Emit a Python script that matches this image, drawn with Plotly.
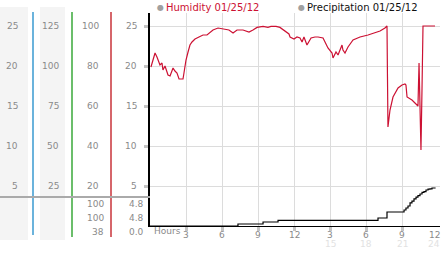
import plotly.graph_objects as go

# ---------------- data ----------------
hum_hours = [0.08, 0.42, 0.58, 0.83, 1.0, 1.08, 1.25, 1.42, 1.5, 1.67, 1.75, 1.92, 2.08, 2.25, 2.42,
             2.75, 2.83, 3.0, 3.17, 3.33, 3.5, 3.75, 4.08, 4.42, 4.75, 4.92, 5.25, 5.67, 6.17, 6.58,
             6.92, 7.25, 7.75, 8.25, 8.58, 8.92, 9.42, 9.83, 10.08, 10.5, 10.83, 11.17, 11.58, 11.67,
             12.0, 12.25, 12.5, 12.67, 12.83, 13.08, 13.42, 13.75, 14.0, 14.42, 14.67, 14.83, 15.17,
             15.25, 15.5, 15.67, 16.0, 16.08, 16.25, 16.5, 16.92, 17.5, 18.17, 18.75, 19.17, 19.58,
             19.75, 19.79, 19.83, 20.0, 20.25, 20.67, 21.0, 21.25, 21.33, 21.42, 21.67, 21.83, 22.08,
             22.33, 22.42, 22.5, 22.58, 22.67, 22.75, 23.75]
humidity = [79.5, 86.5, 84.5, 80.5, 81.5, 78, 80, 76.5, 75.5, 75, 76.5, 79, 77.5, 76.5, 73.5,
            73.5, 76.5, 83, 87, 90.5, 92, 93.5, 94.5, 95.5, 95.5, 96.5, 98, 99, 98.5, 98,
            96.5, 98, 98, 97, 98, 99.3, 99.8, 99.3, 99.8, 99.8, 99.3, 98, 96, 94.5,
            93.5, 94.5, 94, 92, 94.5, 90.5, 94, 94.5, 94.5, 94, 90.5, 89, 86.5,
            84, 87, 85.5, 90.5, 88, 86.5, 89.5, 93, 94.5, 95.5, 96.5, 97.5, 99,
            100, 74.5, 49.5, 58, 64.5, 69, 70.5, 71, 70.5, 64.5, 63.5, 63, 61.5,
            60, 81.5, 59.5, 38, 69.5, 100, 100]

pre_hours = [0.0, 7.33, 9.42, 10.67, 19.0, 19.75, 21.0, 21.17, 21.33, 21.5, 21.67, 21.83, 22.0,
             22.17, 22.33, 22.5, 22.67, 22.83, 23.0, 23.17, 23.33, 23.5, 23.75]
precip = [0.0, 0.25, 0.5, 0.7, 1.0, 1.75, 1.75, 2.0, 2.25, 2.5, 2.9, 3.1, 3.4,
          3.6, 3.8, 4.0, 4.2, 4.3, 4.5, 4.6, 4.65, 4.75, 4.8]

y_ticks = [5, 10, 15, 20, 25]
col1_labels = ["5", "10", "15", "20", "25"]
col2_labels = ["25", "50", "75", "100", "125"]
col3_labels = ["20", "40", "60", "80", "100"]
col4_labels = ["5", "10", "15", "20", "25"]
x_ticks = [3, 6, 9, 12, 15, 18, 21, 24]
x_labels = ["3", "6", "9", "12", "3", "6", "9", "12"]
x_labels_24 = ["", "", "", "", "15", "18", "21", "24"]
hum_stats = ["100", "100", "38"]
pre_stats = ["4.8", "4.8", "0.0"]

# ---------------- layout geometry ----------------
W, H = 442, 253
L, R, T, B = 150, 2, 13, 27
PW, PH = W - L - R, H - T - B
XMAX = PW / 12.0
YMAX = PH / 8.0


def xp(px):
    return (px - L) / PW


def yp(py):
    return (H - B - py) / PH


GRAY = "#8a8a8a"
FONT = "DejaVu Sans"

fig = go.Figure()
fig.add_trace(go.Scatter(x=pre_hours, y=precip, mode="lines", line=dict(color="black", width=1.2, shape="hv"),
                         name="Precipitation 01/25/12", showlegend=False, hoverinfo="skip"))
fig.add_trace(go.Scatter(x=hum_hours, y=humidity, mode="lines", line=dict(color="#cc1133", width=1.2),
                         yaxis="y2", name="Humidity 01/25/12", showlegend=False, hoverinfo="skip"))

shapes = []
# left panel column backgrounds
for x0, x1 in [(0, 28), (40, 65)]:
    shapes.append(dict(type="rect", xref="paper", yref="paper", x0=xp(x0), x1=xp(x1), y0=yp(240), y1=yp(7),
                       fillcolor="#f4f4f4", line=dict(width=0), layer="below"))
# coloured axis bars
for xpx, col, yend in [(33, "#3a9ad0", 235), (72, "#3aa83a", 237), (111, "#c8333a", 237)]:
    shapes.append(dict(type="line", xref="paper", yref="paper", x0=xp(xpx), x1=xp(xpx), y0=yp(12), y1=yp(yend),
                       line=dict(color=col, width=1.5)))
# separator
shapes.append(dict(type="line", xref="paper", yref="paper", x0=xp(0), x1=xp(150), y0=yp(197), y1=yp(197),
                   line=dict(color="#aaaaaa", width=2)))

ann = []
for i, v in enumerate(y_ticks):
    for txt, xr in [(col1_labels[i], 20), (col2_labels[i], 61), (col3_labels[i], 101), (col4_labels[i], 139)]:
        ann.append(dict(text=txt, xref="paper", yref="y", x=xp(xr), y=v, xanchor="right", yanchor="middle",
                        showarrow=False, font=dict(family=FONT, size=9, color=GRAY)))
for i, py in enumerate([204, 218, 232]):
    ann.append(dict(text=hum_stats[i], xref="paper", yref="paper", x=xp(106), y=yp(py), xanchor="right",
                    yanchor="middle", showarrow=False, font=dict(family=FONT, size=9, color=GRAY)))
    ann.append(dict(text=pre_stats[i], xref="paper", yref="paper", x=xp(146), y=yp(py), xanchor="right",
                    yanchor="middle", showarrow=False, font=dict(family=FONT, size=9, color=GRAY)))
for i, v in enumerate(x_ticks):
    shift = -4 if v == x_ticks[-1] else 0
    ann.append(dict(text=x_labels[i], xref="x", yref="paper", x=v, y=yp(235), xanchor="center",
                    xshift=shift, yanchor="middle", showarrow=False, font=dict(family=FONT, size=9, color=GRAY)))
    if x_labels_24[i]:
        ann.append(dict(text=x_labels_24[i], xref="x", yref="paper", x=v, y=yp(244), xanchor="center",
                        xshift=shift, yanchor="middle", showarrow=False,
                        font=dict(family=FONT, size=9, color="#e2e2e2")))
ann.append(dict(text="Hours", xref="paper", yref="paper", x=xp(152), y=yp(231), xanchor="left", yanchor="middle",
                showarrow=False, font=dict(family=FONT, size=9, color=GRAY)))
# legend
for name, col, xc in [("Humidity 01/25/12", "#cc1133", 160), ("Precipitation 01/25/12", "#111111", 301)]:
    ann.append(dict(text="●", xref="paper", yref="paper", x=xp(xc), y=yp(7), xanchor="center", yanchor="middle",
                    showarrow=False, font=dict(family=FONT, size=8, color="#a0a0a0")))
    ann.append(dict(text=name, xref="paper", yref="paper", x=xp(xc + 4), y=yp(7), xanchor="left",
                    yanchor="middle", showarrow=False, font=dict(family=FONT, size=10, color=col)))

fig.update_layout(
    width=W, height=H, margin=dict(l=L, r=R, t=T, b=B, pad=0),
    paper_bgcolor="white", plot_bgcolor="white",
    showlegend=False, shapes=shapes, annotations=ann,
    xaxis=dict(range=[0, XMAX], tickvals=x_ticks[:-1], showgrid=True, gridcolor="#dcdcdc", gridwidth=1,
               showticklabels=False, ticks="outside", ticklen=4, tickwidth=3, tickcolor="#c4c4c4",
               zeroline=False, showline=True, linecolor="black", linewidth=1, fixedrange=True),
    yaxis=dict(range=[0, YMAX], tickvals=y_ticks, showgrid=True, gridcolor="#dcdcdc", gridwidth=1,
               showticklabels=False, ticks="outside", ticklen=4, tickwidth=3, tickcolor="#c4c4c4",
               zeroline=False, showline=True, linecolor="black", linewidth=2, fixedrange=True),
    yaxis2=dict(range=[0, YMAX * 4], overlaying="y", visible=False, fixedrange=True),
)

fig.write_html("out.html", config={"displayModeBar": False})
